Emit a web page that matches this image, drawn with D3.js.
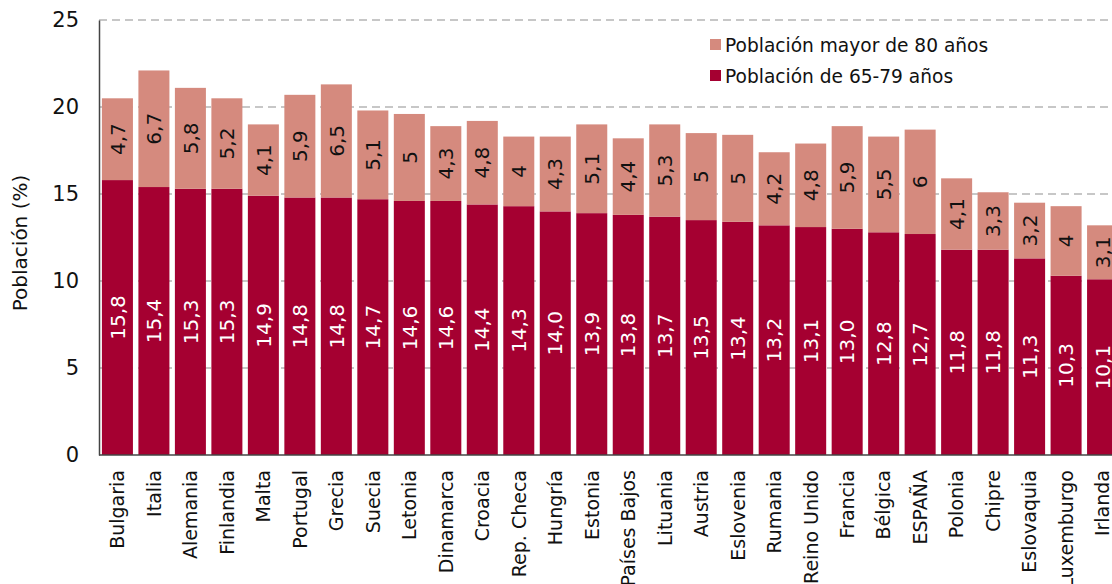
<!DOCTYPE html>
<html><head><meta charset="utf-8">
<script src="https://cdn.jsdelivr.net/npm/d3@7"></script>
<style>
html,body{margin:0;padding:0;background:#fff;overflow:hidden;}
text{font-family:"DejaVu Sans",Verdana,sans-serif;}
</style></head>
<body>
<svg id="chart" width="1112" height="584"></svg>
<script>
const countries = ["Bulgaria","Italia","Alemania","Finlandia","Malta","Portugal","Grecia","Suecia","Letonia","Dinamarca","Croacia","Rep. Checa","Hungría","Estonia","Países Bajos","Lituania","Austria","Eslovenia","Rumania","Reino Unido","Francia","Bélgica","ESPAÑA","Polonia","Chipre","Eslovaquia","Luxemburgo","Irlanda"];
const pop65_79 = [15.8,15.4,15.3,15.3,14.9,14.8,14.8,14.7,14.6,14.6,14.4,14.3,14.0,13.9,13.8,13.7,13.5,13.4,13.2,13.1,13.0,12.8,12.7,11.8,11.8,11.3,10.3,10.1];
const pop80 = [4.7,6.7,5.8,5.2,4.1,5.9,6.5,5.1,5,4.3,4.8,4,4.3,5.1,4.4,5.3,5,5,4.2,4.8,5.9,5.5,6,4.1,3.3,3.2,4,3.1];
const yTicks = [0,5,10,15,20,25];
const seriesNames = ["Población mayor de 80 años","Población de 65-79 años"];
const colors = {dark:"#a50031", light:"#d58a7e"};

const svg = d3.select("#chart");
const x0 = 99, x1 = 1121, yBottom = 455, yTop = 20;
const x = d3.scaleBand().domain(countries).range([x0, x1]).paddingInner(0.15).paddingOuter(0.08);
const y = d3.scaleLinear().domain([0,25]).range([yBottom, yTop]);
const fmtDark = v => d3.format(".1f")(v).replace(".", ",");
const fmtLight = v => String(v).replace(".", ",");

// gridlines
svg.append("g").selectAll("line").data(yTicks.filter(d=>d>0)).join("line")
  .attr("x1", x0).attr("x2", 1112)
  .attr("y1", d=>y(d)).attr("y2", d=>y(d))
  .attr("stroke","#b5b5b5").attr("stroke-width",1.3).attr("stroke-dasharray","8,5");

const data = countries.map((c,i)=>({c, a:pop65_79[i], b:pop80[i]}));
const g = svg.append("g");
g.selectAll("rect.a").data(data).join("rect").attr("class","a")
  .attr("x", d=>x(d.c)).attr("width", x.bandwidth())
  .attr("y", d=>y(d.a)).attr("height", d=>y(0)-y(d.a)).attr("fill", colors.dark);
g.selectAll("rect.b").data(data).join("rect").attr("class","b")
  .attr("x", d=>x(d.c)).attr("width", x.bandwidth())
  .attr("y", d=>y(d.a+d.b)).attr("height", d=>y(d.a)-y(d.a+d.b)).attr("fill", colors.light);

// value labels
g.selectAll("text.va").data(data).join("text").attr("class","va")
  .attr("transform", d=>`translate(${x(d.c)+x.bandwidth()/2},${y(d.a/2)}) rotate(-90)`)
  .attr("text-anchor","middle").attr("dy","0.36em")
  .attr("font-size",20).attr("fill","#fff").text(d=>fmtDark(d.a));
g.selectAll("text.vb").data(data).join("text").attr("class","vb")
  .attr("transform", d=>`translate(${x(d.c)+x.bandwidth()/2},${y(d.a+d.b/2)}) rotate(-90)`)
  .attr("text-anchor","middle").attr("dy","0.36em")
  .attr("font-size",20).attr("fill","#111").text(d=>fmtLight(d.b));

// y axis
const yAxis = d3.axisLeft(y).tickValues(yTicks).tickSize(0).tickPadding(20);
const ya = svg.append("g").attr("transform",`translate(${x0},0)`).call(yAxis);
ya.select(".domain").attr("stroke","#444").attr("stroke-width",1.5);
ya.selectAll("text").attr("font-size",21).attr("fill","#111").style("font-family","DejaVu Sans");

// x axis
const xAxis = d3.axisBottom(x).tickSize(0).tickPadding(0);
const xa = svg.append("g").attr("transform",`translate(0,${yBottom})`).call(xAxis);
xa.select(".domain").remove();
xa.selectAll("text").attr("font-size",19).attr("fill","#111").style("font-family","DejaVu Sans")
  .attr("transform","rotate(-90)").attr("text-anchor","end").attr("x",-15).attr("y",0).attr("dy","0.36em");
svg.append("line").attr("x1",x0).attr("x2",1112).attr("y1",yBottom).attr("y2",yBottom).attr("stroke","#444").attr("stroke-width",1.5);

// y title
svg.append("text").attr("transform","translate(20,243) rotate(-90)").attr("text-anchor","middle").attr("dy","0.36em")
  .attr("font-size",20).attr("fill","#111").text("Población (%)");

// legend
const lg = svg.append("g").attr("transform","translate(710,39)");
const legItems = [{n:seriesNames[0],c:colors.light},{n:seriesNames[1],c:colors.dark}];
legItems.forEach((d,i)=>{
  lg.append("rect").attr("x",0).attr("y",i*31).attr("width",11).attr("height",11).attr("fill",d.c);
  lg.append("text").attr("x",15).attr("y",i*31+6).attr("dy","0.36em").attr("font-size",18.6).attr("fill","#111").text(d.n);
});
</script>
</body></html>
